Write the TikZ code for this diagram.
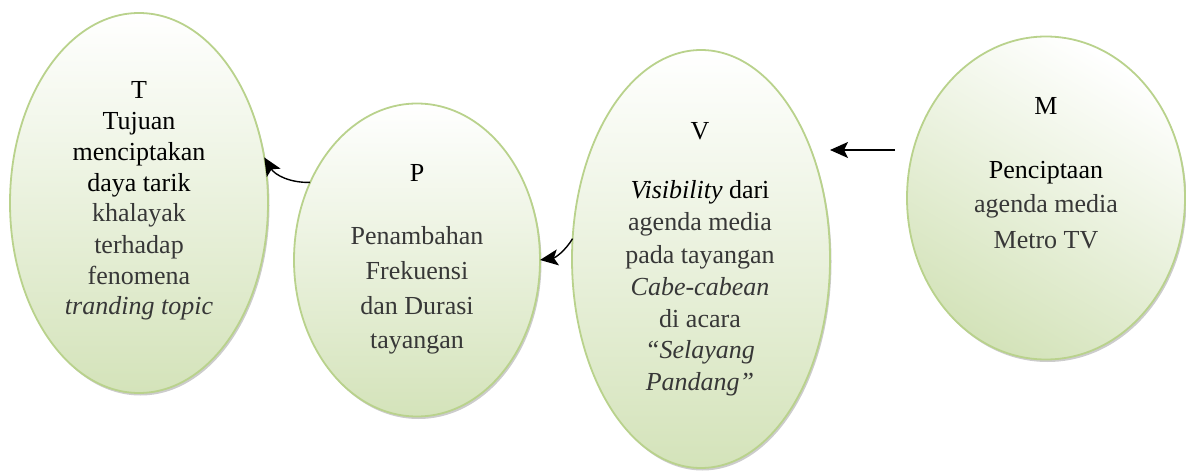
\documentclass[tikz,border=0pt]{standalone}
\usepackage{fontspec}
\setmainfont{Liberation Serif}
\usetikzlibrary{shapes.geometric,arrows.meta,shadows}
\definecolor{edgegreen}{RGB}{185,210,140}
\definecolor{fillgreen}{RGB}{212,227,186}
\definecolor{txtgray}{RGB}{55,55,55}
\begin{document}
\begin{tikzpicture}[x=1pt,y=-1pt,
  ell/.style={ellipse, draw=edgegreen, line width=1.8pt, top color=white, bottom color=fillgreen,
    inner sep=0pt, outer sep=0pt,
    drop shadow={shadow xshift=1.5pt, shadow yshift=-2.5pt, fill=black!40, opacity=.5}},
  lbl/.style={anchor=base, inner sep=0pt, font=\fontsize{26}{30}\selectfont},
  glbl/.style={lbl, text=txtgray},
  arr/.style={-{Stealth[length=18pt,width=16pt,inset=4pt]}, line width=1.7pt, black}]
\useasboundingbox (0,0) rectangle (1186,473);
% ellipses
\node[ell, minimum width=258pt, minimum height=380pt] (T) at (139,203) {};
\node[ell, minimum width=246pt, minimum height=313pt] (P) at (417,260) {};
\node[ell, minimum width=258pt, minimum height=418pt] (V) at (701,259) {};
\node[ell, minimum width=278pt, minimum height=323pt, shading angle=-30] (M) at (1046,198) {};
% T texts
\node[lbl] (t0) at (139,99) {T};
\node[lbl] (t1) at (139,130) {Tujuan};
\node[lbl] (t2) at (139,161) {menciptakan};
\node[lbl] (t3) at (139,192) {daya tarik};
\node[glbl] (t4) at (139,222) {khalayak};
\node[glbl] (t5) at (139,253) {terhadap};
\node[glbl] (t6) at (139,284) {fenomena};
\node[glbl] (t7) at (139,314) {\textit{tranding topic}};
% P texts
\node[lbl] (p0) at (417,182) {P};
\node[glbl] (p1) at (417,244) {Penambahan};
\node[glbl] (p2) at (417,279) {Frekuensi};
\node[glbl] (p3) at (417,314) {dan Durasi};
\node[glbl] (p4) at (417,348) {tayangan};
% V texts
\node[lbl] (v0) at (700,140) {V};
\node[lbl] (v1) at (700,199) {\textit{Visibility} dari};
\node[glbl] (v2) at (700,231) {agenda media};
\node[glbl] (v3) at (700,263) {pada tayangan};
\node[glbl] (v4) at (700,295) {\textit{Cabe-cabean}};
\node[glbl] (v5) at (700,327) {di acara};
\node[glbl] (v6) at (700,358) {\textit{“Selayang}};
\node[glbl] (v7) at (700,390) {\textit{Pandang”}};
% M texts
\node[lbl] (m0) at (1046,115) {M};
\node[lbl] (m1) at (1046,179) {Penciptaan};
\node[glbl] (m2) at (1046,213) {agenda media};
\node[glbl] (m3) at (1046,248) {Metro TV};
% connectors
\coordinate (mvy) at (0,150);
\draw[arr, shorten <=12pt] (M.west |- mvy) -- (V.east |- mvy);
\draw[arr, line width=1.4pt] (V.171) to[bend left=25] (P.east);
\draw[arr, line width=1.4pt] (P.144) to[bend left=30] (T.20);
\end{tikzpicture}
\end{document}
